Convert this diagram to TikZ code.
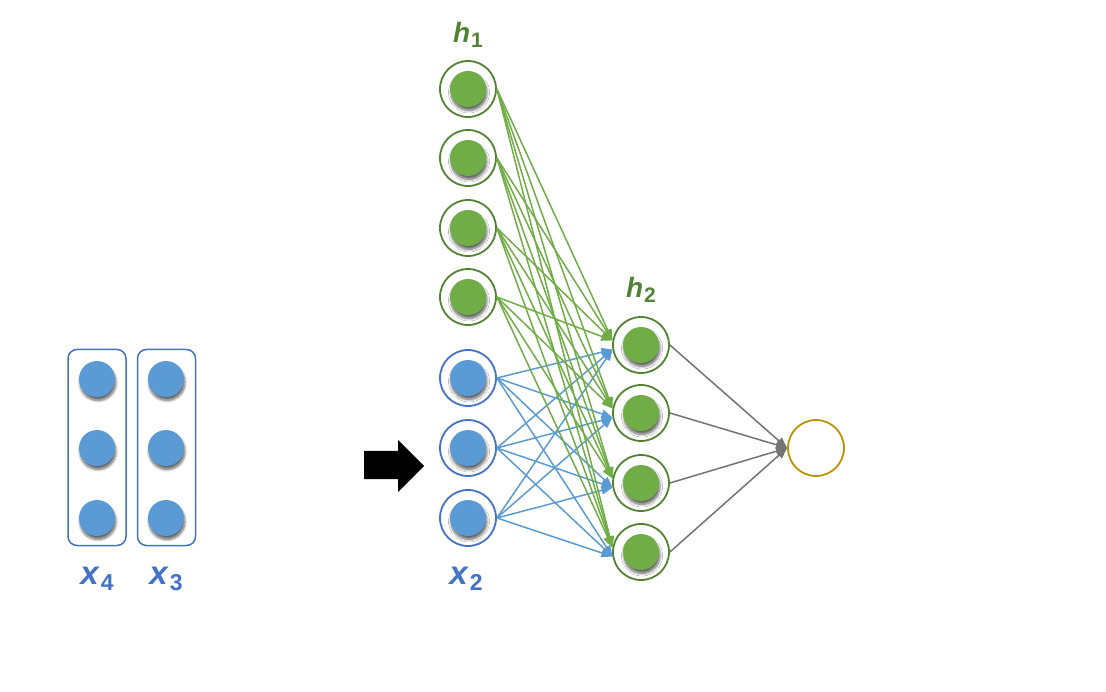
\documentclass[tikz,border=0pt]{standalone}
\usepackage{fontspec}
\setmainfont{Liberation Sans}
\usetikzlibrary{arrows.meta,shadows.blur}
\definecolor{gfill}{HTML}{70AD47}
\definecolor{gdark}{HTML}{548235}
\definecolor{bfill}{HTML}{5B9BD5}
\definecolor{bdark}{HTML}{4472C4}
\definecolor{lgray}{HTML}{737373}
\definecolor{gold}{HTML}{BF9000}
\begin{document}
\begin{tikzpicture}[x=1pt,y=-1pt,
  ring/.style={circle,line width=1.8pt,minimum size=56pt,inner sep=0pt,fill=white},
  gring/.style={ring,draw=gdark},
  bring/.style={ring,draw=bdark},
  dot/.style={circle,minimum size=36pt,inner sep=0pt,
    blur shadow={shadow xshift=1pt,shadow yshift=-3.5pt,shadow blur steps=8,shadow opacity=60,shadow blur radius=2.5pt}},
  gdot/.style={dot,fill=gfill},
  bdot/.style={dot,fill=bfill},
  tip/.style={-{Triangle[length=11pt,width=8.5pt]}},
  glink/.style={draw=gfill,line width=1.5pt,tip},
  blink/.style={draw=bfill,line width=1.5pt,tip},
  klink/.style={draw=lgray,line width=1.5pt,tip},
  boxcol/.style={draw=bdark,rounded corners=9pt,line width=1.5pt,minimum width=58pt,minimum height=196pt,inner sep=0pt},
  blab/.style={text=bdark,font=\fontsize{33}{33}\selectfont\bfseries},
  glab/.style={text=gdark,font=\fontsize{28}{28}\selectfont\bfseries}
]
\useasboundingbox (0,0) rectangle (1106,692);
% left boxes
\node[boxcol] (box4) at (97,447.5) {};
\node[boxcol] (box3) at (166.5,447.5) {};
\foreach \y [count=\i] in {379,448,518} {
  \node[bdot] (p\i) at (97,\y) {};
  \node[bdot] (q\i) at (166,\y) {};
}
\node[blab] (lx4) at (97,579) {\textit{x}\kern1pt\raisebox{-6pt}{\fontsize{23}{23}\selectfont 4}};
\node[blab] (lx3) at (166,579) {\textit{x}\kern1pt\raisebox{-6pt}{\fontsize{23}{23}\selectfont 3}};
% block arrow
\fill[black] (364,451) -- (398,451) -- (398,440) -- (424,466) -- (398,492) -- (398,479) -- (364,479) -- cycle;
% h1 layer
\foreach \y [count=\i] in {89,158,228,297} {
  \node[gring] (h\i) at (468,\y) {};
  \node[gdot] (hd\i) at (468,\y) {};
}
% x2 layer
\foreach \y [count=\i] in {378,448,518} {
  \node[bring] (b\i) at (468,\y) {};
  \node[bdot] (bd\i) at (468,\y) {};
}
% h2 layer
\foreach \y [count=\i] in {345,413,483,552} {
  \node[gring] (k\i) at (641,\y) {};
  \node[gdot] (kd\i) at (641,\y) {};
}
\node[circle,draw=gold,line width=1.8pt,minimum size=56pt,inner sep=0pt] (out) at (816,448) {};
% labels
\node[glab] (lh1) at (468,35) {\textit{h}\kern1pt\raisebox{-5pt}{\fontsize{21}{21}\selectfont 1}};
\node[glab] (lh2) at (641,290) {\textit{h}\kern1pt\raisebox{-5pt}{\fontsize{21}{21}\selectfont 2}};
\node[blab] (lx2) at (466,579) {\textit{x}\kern1pt\raisebox{-6pt}{\fontsize{23}{23}\selectfont 2}};
% links
\foreach \i in {1,2,3} \foreach \j in {1,2,3,4}
  \draw[blink] (b\i.east) -- (k\j.189);
\foreach \i in {1,2,3,4} \foreach \j in {1,2,3,4}
  \draw[glink] (h\i.east) -- (k\j.171);
\foreach \j in {1,2,3,4}
  \draw[klink] (k\j.east) -- (out.west);
\end{tikzpicture}
\end{document}
